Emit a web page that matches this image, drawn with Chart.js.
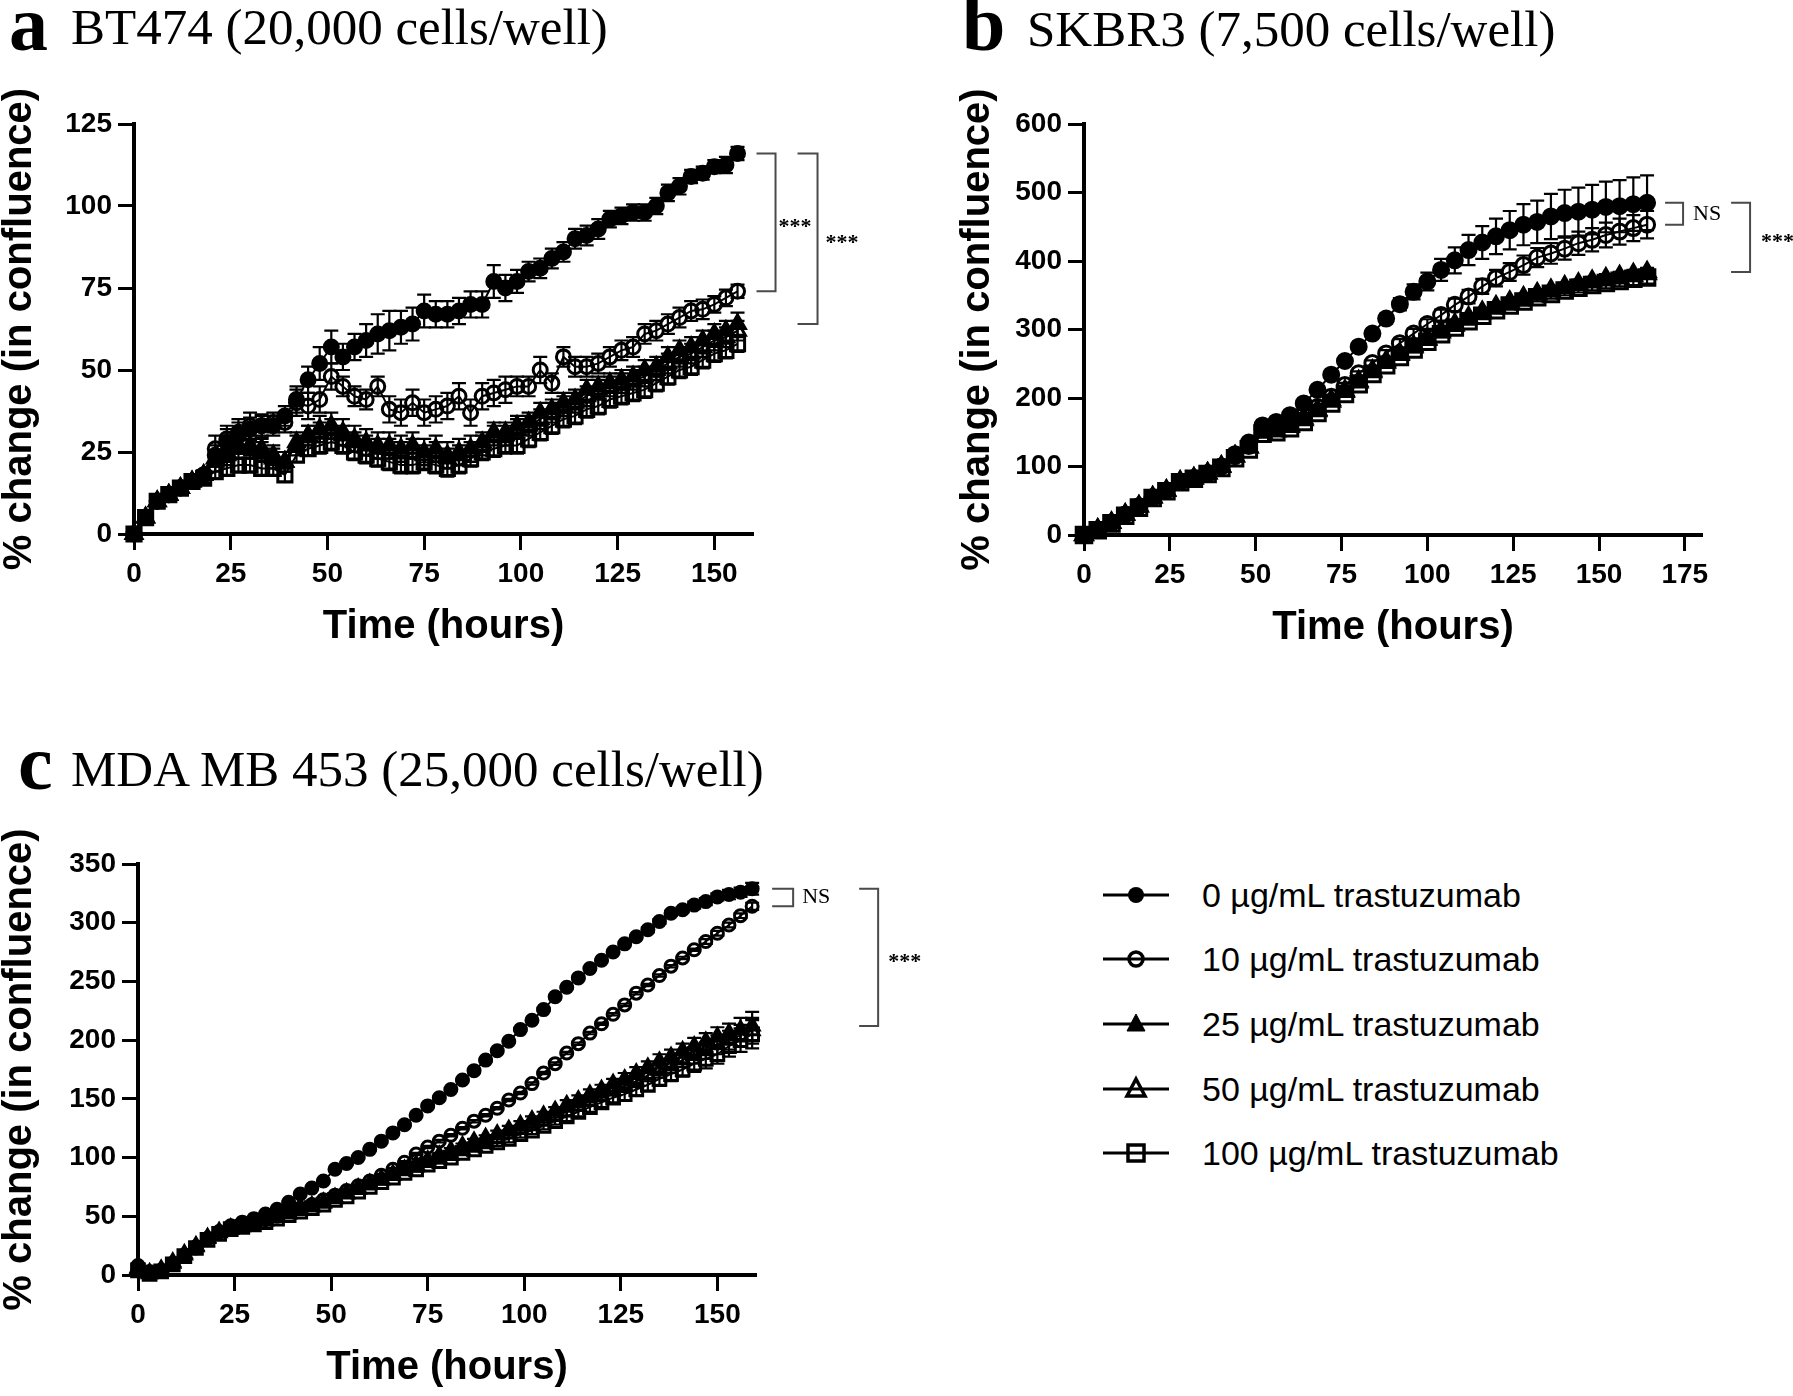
<!DOCTYPE html>
<html>
<head>
<meta charset="utf-8">
<script src="https://cdn.jsdelivr.net/npm/chart.js@4/dist/chart.umd.min.js"></script>
<style>
  body { margin: 0; background: #fff; }
  #page { position: relative; width: 1793px; height: 1396px; overflow: hidden; background: #fff; }
  canvas { position: absolute; }
  .t { position: absolute; white-space: nowrap; line-height: 1; color: #000;
       font-family: 'Liberation Serif', 'Times New Roman', serif; }
  .letter { font-weight: bold; font-size: 78px; }
  .head { font-size: 51px; }
  .leg { position: absolute; left: 1103px; height: 40px; width: 600px; }
  .leg svg { position: absolute; left: 0; top: 0; }
  .leg span { position: absolute; left: 99px; top: 0; line-height: 40px; white-space: nowrap;
              font-family: 'Liberation Sans', Arial, sans-serif; font-size: 34px; color: #000; }
</style>
</head>
<body>
<div id="page">
  <div class="t letter" style="left:9px;top:-15px">a</div>
  <div class="t head" style="left:71px;top:2px">BT474 (20,000 cells/well)</div>
  <div class="t letter" style="left:962px;top:-15px">b</div>
  <div class="t head" style="left:1027px;top:4px">SKBR3 (7,500 cells/well)</div>
  <div class="t letter" style="left:18px;top:724px">c</div>
  <div class="t head" style="left:71px;top:744px">MDA MB 453 (25,000 cells/well)</div>

  <canvas id="chartA" width="880" height="574" style="left:0;top:80px"></canvas>
  <canvas id="chartB" width="835" height="575" style="left:958px;top:80px"></canvas>
  <canvas id="chartC" width="950" height="575" style="left:0;top:820px"></canvas>
  <div id="legend"></div>
</div>

<script>
const SANS = "'Liberation Sans', Arial, sans-serif";
const SERIF = "'Liberation Serif', 'Times New Roman', serif";

const seriesNames = [
  '0 µg/mL trastuzumab',
  '10 µg/mL trastuzumab',
  '25 µg/mL trastuzumab',
  '50 µg/mL trastuzumab',
  '100 µg/mL trastuzumab'
];

// --- panel a: BT474 ---
const hoursA = [0,3,6,9,12,15,18,21,24,27,30,33,36,39,42,45,48,51,54,57,60,63,66,69,72,75,78,81,84,87,
  90,93,96,99,102,105,108,111,114,117,120,123,126,129,132,135,138,141,144,147,150,153,156];
const a0 = [0,5,10,12,14,16,18,24,28,31, 32,33,33,36,41,47,52,57,54,57, 59,61,62,63,64,68,67,67,68,70,
  70,77,75,77,80,81,84,86,90,91, 93,96,97,98,98,100,104,106,109,110, 112,112.5,116];
const a10 = [0,5,10,12,14,16,18,26,29,30, 33,33,34,34,40,39,41,48,45,42, 41,45,38,37,40,37,38,39,42,37,
  42,43,44,45,45,50,46,54,51,51, 52,54,56,57,61,62,64,66,68,68.5, 70,72,74];
const a25 = [0,5,10,12,14,16,18,22,24,26, 26,25,23,22,28,30,32,33,31,29, 28,27,27,26,27,25,26,24,25,26,
  28,31,31,33,34,37,38,40,41,44, 45,46,47,48,50,51,54,56,57,59, 61,62,64];
const a50 = [0,5,10,12,14,16,18,23,25,27, 27,26,24,22,27,30,31,32,30,28, 27,26,26,25,26,24,25,23,24,25,
  27,30,30,32,33,35,37,39,40,42, 44,45,46,47,48,50,52,54,55,57, 59,60,62];
const a100 = [0,5,10,12,14,16,17,19,20,21, 21,20,20,18,24,26,27,28,27,25, 24,23,22,21,21,22,21,20,21,23,
  25,26,27,27,29,31,33,35,36,38, 39,41,42,43,44,46,48,50,51,53, 55,56,58];
const ea0 = [0.5,1,1,1,1,1,1.5,3,4,4, 3.5,3.5,3,3,4,4,5,5,4,4, 5,6,6,5,5,5,4,4,4,4,
  4,5,4,3.5,3,3,3,3,3,3, 3,2.5,2.5,2.5,2.5,2.5,2.5,2.5,2,2, 2,2.5,2];
const ea10 = [0.5,1,1,1,1,1,1.5,4,4,4, 4,3,3,3,4,4,4,4,3,3, 3,3,4,4,4,4,4,4,4,4,
  4,4,4,3,3,4,3,3,3,3, 3,3,3,3,3,3,3,3,3,3, 2.5,2.5,2];
const ea25 = [0.5,1,1,1,1,1,1.5,3,3,3, 3,3,3,3,3,3,4,4,4,4, 4,4,4,4,4,4,4,4,4,4,
  3,3,3,3,3,3,3,3,3,3, 3,3,3,3,3,3,3,3,3,3, 3,3,3.5];
const ea50 = [0.5,1,1,1,1,1,1.5,2.5,2.5,2.5, 3,3,3,3,3,3,3,3,3,3, 3,3,3,3,3,3,3,3,3,3,
  3,3,3,3,3,3,3,3,3,3, 3,3,3,3,3,3,3,3,3,3, 3,3,3];
const ea100 = [0.5,1,1,1,1,1,1.5,2,2,2, 2,2,2,2,2,2,2.5,2.5,2.5,2.5, 2.5,2.5,2.5,2.5,2.5,2.5,2.5,2.5,2.5,2.5,
  2.5,2.5,2.5,2.5,2.5,2.5,2.5,2.5,2.5,2.5, 2.5,2.5,2.5,2.5,2.5,2.5,2.5,2.5,2.5,2.5, 2.5,2.5,2.5];
const xTicksA = [0,25,50,75,100,125,150];
const yTicksA = [0,25,50,75,100,125];

// --- panel b: SKBR3 ---
const hoursB = [0,4,8,12,16,20,24,28,32,36,40,44,48,52,56,60,64,68,72,76,80,84,88,92,96,100,
  104,108,112,116,120,124,128,132,136,140,144,148,152,156,160,164];
const b0 = [0,8,18,30,42,55,65,78,83,90, 100,118,135,160,165,175,192,212,234,254,
  275,294,316,337,355,370,387,401,416,427, 436,445,453,457,465,470,472,475,479,480, 483,485];
const b10 = [0,8,18,30,42,55,65,78,83,90, 100,115,130,155,158,165,175,187,202,219,
  236,251,265,280,294,308,321,336,348,363, 375,384,394,405,411,418,426,431,438,443, 448,453];
const b25 = [0,8,18,30,42,55,65,78,83,90, 100,115,128,150,152,160,170,183,197,211,
  225,240,254,265,276,287,298,308,318,326, 334,341,347,353,358,363,367,371,375,378, 381,384];
const b50 = [0,8,18,30,42,55,65,78,83,90, 100,115,128,150,152,158,168,181,195,209,
  223,238,252,263,274,285,296,306,316,324, 332,339,345,351,356,361,365,369,372,375, 378,381];
const b100 = [0,7,17,28,40,54,64,77,82,89, 98,112,125,148,150,156,165,178,192,206,
  220,235,248,260,271,282,293,303,312,320, 328,335,341,347,352,357,361,365,368,371, 374,376];
const eb0 = [1,2,2,2,2,2,2,2,2,2, 3,3,3,3,3,3,3,3,4,4, 5,6,7,9,11,13,16,19,22,24,
  26,28,30,31,33,34,35,36,37,38, 39,40];
const eb10 = [1,2,2,2,2,2,2,2,2,2, 3,3,3,3,3,3,3,3,3,3, 3,4,5,6,7,7,8,9,10,11,
  12,13,14,14,15,16,17,17,18,19, 19,20];
const eb25 = [1,2,2,2,2,2,2,2,2,2, 3,3,3,3,3,3,3,3,3,3, 3,3,4,4,4,4,4,4,4,5,
  5,5,5,5,5,5,6,6,6,6, 6,6];
const eb50 = [1,2,2,2,2,2,2,2,2,2, 3,3,3,3,3,3,3,3,3,3, 3,3,4,4,4,4,4,4,4,5,
  5,5,5,5,5,6,6,6,6,6, 7,7];
const eb100 = [1,2,2,2,2,2,2,2,2,2, 3,3,3,3,3,3,3,3,3,3, 3,3,4,4,4,4,4,5,5,5,
  5,6,6,6,7,7,7,8,8,8, 9,9];
const xTicksB = [0,25,50,75,100,125,150,175];
const yTicksB = [0,100,200,300,400,500,600];

// --- panel c: MDA MB 453 ---
const hoursC = [0,3,6,9,12,15,18,21,24,27,30,33,36,39,42,45,48,51,54,57,60,63,66,69,72,75,78,81,84,87,
  90,93,96,99,102,105,108,111,114,117,120,123,126,129,132,135,138,141,144,147,150,153,156,159];
const c0 = [8,3,3,9,16,23,31,37,42,45, 48,52,56,62,69,74,80,90,95,100, 107,114,121,128,136,144,151,158,166,174,
  183,191,199,209,217,226,237,245,253,261, 268,275,282,288,294,301,308,311,315,318, 322,324,326,329];
const c10 = [5,2,4,10,17,24,31,36,40,42, 44,47,50,54,57,60,64,68,72,76, 80,85,90,96,103,109,114,119,125,131,
  136,142,149,155,163,172,180,189,197,206, 214,222,230,240,247,255,263,270,277,284, 291,298,306,314];
const c25 = [6,2,5,11,18,25,32,37,40,42, 44,47,50,53,56,59,62,66,70,74, 78,82,86,90,94,98,102,106,110,114,
  117,120,124,128,132,136,140,145,149,154, 158,163,167,172,177,182,186,191,195,199, 203,206,209,212];
const c50 = [5,1,4,10,17,24,31,36,39,41, 43,46,49,52,55,58,61,65,69,73, 77,81,85,89,92,96,99,102,106,110,
  113,116,120,124,127,131,135,139,144,148, 152,157,161,165,170,174,178,183,187,191, 196,200,204,208];
const c100 = [4,1,3,9,16,23,30,35,39,41, 43,45,48,51,54,57,60,64,67,71, 75,79,83,87,90,94,97,100,104,107,
  110,113,116,120,123,127,131,135,139,143, 147,151,154,158,162,167,171,175,180,184, 188,195,200,205];
const ec0 = [2,1,1,1,1,1,1,1,1,1, 1,1,1,1,1,1,1,1,1,1, 1,1,1,1,1,1,1,1,1,1,
  1,1,1,1,1,1,1,1,1,1, 1,1,1,1,2,2,2,2,3,3, 3,4,4,5];
const ec10 = [2,1,1,1,1,1,1,1,1,1, 1,1,1,1,1,1,1,1,1,1, 1,1,1,1,1,1,1,1,1,1,
  1,1,1,1,1,1,1,1,1,1, 1,1,1,1,1,1,1,1,1,2, 2,2,2,3];
const ec25 = [2,1,1,1,1,1,1,1,1,1, 1,1,1,1,1,1,1,1,1,2, 2,2,2,2,2,2,2,2,2,2,
  2,3,3,3,3,3,3,4,4,4, 4,4,5,5,5,6,6,6,7,7, 8,8,10,12];
const ec50 = [2,1,1,1,1,1,1,1,1,1, 1,1,1,1,1,1,1,1,1,2, 2,2,2,2,2,2,2,2,2,2,
  2,3,3,3,3,3,3,4,4,4, 4,4,5,5,5,6,6,6,7,7, 8,8,9,11];
const ec100 = [2,1,1,1,1,1,1,1,1,1, 1,1,1,1,1,1,1,1,1,2, 2,2,2,2,2,2,2,2,2,2,
  2,3,3,3,3,3,3,4,4,4, 4,4,5,5,5,6,6,6,7,8, 8,9,10,12];
const xTicksC = [0,25,50,75,100,125,150];
const yTicksC = [0,50,100,150,200,250,300,350];

// marker look per series (same order as seriesNames)
const markers = [
  { style: 'circle', filled: true },
  { style: 'circle', filled: false },
  { style: 'triangle', filled: true },
  { style: 'triangle', filled: false },
  { style: 'rect', filled: false }
];

// vertical error bars with caps, drawn under the markers
const errorBarPlugin = {
  id: 'errorBars',
  beforeDatasetsDraw(chart, args, opts) {
    const { ctx, scales: { x, y } } = chart;
    ctx.save();
    ctx.strokeStyle = '#000';
    ctx.lineWidth = 2.2;
    chart.data.datasets.forEach(ds => {
      ds.data.forEach((p, k) => {
        const e = ds.errors[k];
        if (!e) return;
        const px = x.getPixelForValue(p.x);
        const top = y.getPixelForValue(p.y + e);
        const bot = y.getPixelForValue(p.y - e);
        ctx.beginPath();
        ctx.moveTo(px, top); ctx.lineTo(px, bot);
        ctx.moveTo(px - opts.cap, top); ctx.lineTo(px + opts.cap, top);
        ctx.moveTo(px - opts.cap, bot); ctx.lineTo(px + opts.cap, bot);
        ctx.stroke();
      });
    });
    ctx.restore();
  }
};

// significance brackets between the end points of two series
const bracketPlugin = {
  id: 'brackets',
  afterDraw(chart, args, opts) {
    const { ctx, scales: { x, y } } = chart;
    const sets = chart.data.datasets;
    ctx.save();
    opts.items.forEach(b => {
      const hi = sets[b.from].data[sets[b.from].data.length - 1];
      const lo = sets[b.to].data[sets[b.to].data.length - 1];
      const x0 = x.getPixelForValue(hi.x);
      const top = y.getPixelForValue(hi.y);
      const bot = y.getPixelForValue(lo.y);
      ctx.strokeStyle = '#4a4a4a';
      ctx.lineWidth = 2;
      ctx.beginPath();
      ctx.moveTo(x0 + b.x0, top);
      ctx.lineTo(x0 + b.x1, top);
      ctx.lineTo(x0 + b.x1, bot);
      ctx.lineTo(x0 + b.x0, bot);
      ctx.stroke();
      ctx.fillStyle = '#000';
      ctx.textBaseline = 'middle';
      ctx.textAlign = 'left';
      if (b.text === 'NS') {
        ctx.font = '22px ' + SERIF;
        ctx.fillText(b.text, x0 + b.textX, (top + bot) / 2);
      } else {
        ctx.font = 'bold 22px ' + SERIF;
        ctx.fillText(b.text, x0 + b.textX, (top + bot) / 2 + 5);
      }
    });
    ctx.restore();
  }
};

function buildDatasets(hours, values, errors, size) {
  return values.map((vals, i) => ({
    label: seriesNames[i],
    data: hours.map((h, k) => ({ x: h, y: vals[k] })),
    errors: errors[i],
    borderColor: '#000',
    borderWidth: 2,
    pointStyle: markers[i].style,
    pointRadius: size[markers[i].style],
    pointBorderWidth: 3,
    pointBorderColor: '#000',
    pointBackgroundColor: markers[i].filled ? '#000' : 'rgba(0,0,0,0)',
    order: values.length - 1 - i,
    clip: false
  }));
}

function axis(max, ticks, title, fit, isX) {
  return {
    type: 'linear',
    min: 0,
    max: max,
    afterBuildTicks: s => { s.ticks = ticks.map(v => ({ value: v })); },
    afterFit: fit,
    border: { color: '#000', width: 4 },
    grid: { drawOnChartArea: false, color: '#000', tickLength: 16, tickWidth: 3 },
    ticks: {
      color: '#000',
      padding: isX ? 7 : 6,
      maxRotation: 0,
      font: { family: SANS, weight: 'bold', size: 28 }
    },
    title: {
      display: true,
      text: title,
      color: '#000',
      font: { family: SANS, weight: 'bold', size: 40, lineHeight: 1 },
      padding: isX ? { top: 0, bottom: 7 } : { top: 0, bottom: 0 }
    }
  };
}

function makeChart(id, p) {
  return new Chart(document.getElementById(id), {
    type: 'line',
    data: { datasets: buildDatasets(p.hours, p.values, p.errors, p.size) },
    plugins: [errorBarPlugin, bracketPlugin],
    options: {
      responsive: false,
      animation: false,
      devicePixelRatio: 1,
      layout: { padding: { top: 44, right: p.padRight, bottom: 0, left: 0 } },
      plugins: {
        legend: { display: false },
        tooltip: { enabled: false },
        errorBars: { cap: 7 },
        brackets: { items: p.brackets }
      },
      scales: {
        x: axis(p.xMax, p.xTicks, 'Time (hours)', s => { s.height = 120; }, true),
        y: axis(p.yMax, p.yTicks, '% change (in confluence)', s => { s.width = p.yWidth; }, false)
      }
    }
  });
}

makeChart('chartA', {
  hours: hoursA,
  values: [a0, a10, a25, a50, a100],
  errors: [ea0, ea10, ea25, ea50, ea100],
  size: { circle: 7, triangle: 9, rect: 10 },
  xMax: 160, yMax: 125, xTicks: xTicksA, yTicks: yTicksA,
  yWidth: 134, padRight: 127,
  brackets: [
    { from: 0, to: 1, x0: 19, x1: 38, textX: 41, text: '***' },
    { from: 0, to: 2, x0: 60, x1: 80, textX: 88, text: '***' }
  ]
});

makeChart('chartB', {
  hours: hoursB,
  values: [b0, b10, b25, b50, b100],
  errors: [eb0, eb10, eb25, eb50, eb100],
  size: { circle: 7.5, triangle: 9.5, rect: 11 },
  xMax: 180, yMax: 600, xTicks: xTicksB, yTicks: yTicksB,
  yWidth: 126, padRight: 91,
  brackets: [
    { from: 0, to: 1, x0: 18, x1: 36, textX: 46, text: 'NS' },
    { from: 0, to: 2, x0: 84, x1: 103, textX: 114, text: '***' }
  ]
});

makeChart('chartC', {
  hours: hoursC,
  values: [c0, c10, c25, c50, c100],
  errors: [ec0, ec10, ec25, ec50, ec100],
  size: { circle: 6, triangle: 8, rect: 9 },
  xMax: 160, yMax: 350, xTicks: xTicksC, yTicks: yTicksC,
  yWidth: 138, padRight: 194,
  brackets: [
    { from: 0, to: 1, x0: 20, x1: 41, textX: 50, text: 'NS' },
    { from: 0, to: 2, x0: 107, x1: 126, textX: 136, text: '***' }
  ]
});

// --- legend (HTML with small svg keys) ---
const legendRows = [895, 959, 1024, 1089, 1153];
function legendIcon(m) {
  const fill = m.filled ? '#000' : 'none';
  let shape;
  if (m.style === 'circle') {
    shape = m.filled ? '<circle cx="33" cy="20" r="8" fill="#000"/>'
                     : '<circle cx="33" cy="20" r="7" fill="none" stroke="#000" stroke-width="3.5"/>';
  } else if (m.style === 'triangle') {
    shape = '<polygon points="33,10 42,27 24,27" fill="' + fill + '" stroke="#000" stroke-width="' +
            (m.filled ? 1 : 3.5) + '" stroke-linejoin="miter"/>';
  } else {
    shape = '<rect x="25" y="12" width="16" height="16" fill="none" stroke="#000" stroke-width="3.5"/>';
  }
  return '<svg width="66" height="40"><line x1="0" y1="20" x2="66" y2="20" stroke="#000" stroke-width="3"/>' +
         shape + '</svg>';
}
const legend = document.getElementById('legend');
seriesNames.forEach((name, i) => {
  const row = document.createElement('div');
  row.className = 'leg';
  row.style.top = (legendRows[i] - 20) + 'px';
  row.innerHTML = legendIcon(markers[i]) + '<span>' + name + '</span>';
  legend.appendChild(row);
});
</script>
</body>
</html>
